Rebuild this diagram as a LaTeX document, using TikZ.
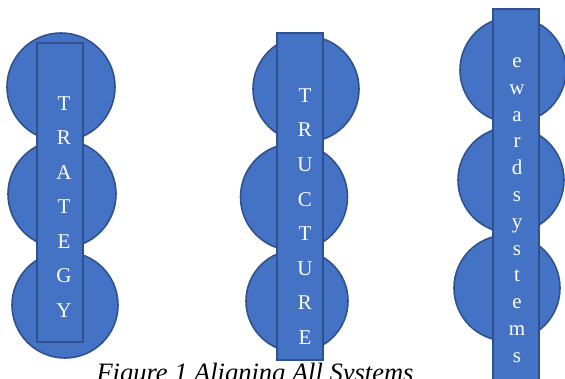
\documentclass[tikz,border=0pt]{standalone}
\usepackage{fontspec}
\setmainfont{Liberation Serif}
\definecolor{fillblue}{HTML}{4472C4}
\definecolor{edgeblue}{HTML}{2F528F}
\tikzset{
  ball/.style={circle, fill=fillblue, draw=edgeblue, line width=1.6pt, minimum size=#1, inner sep=0pt},
  bar/.style={rectangle, fill=fillblue, draw=edgeblue, line width=1.6pt, inner sep=0pt},
  letters/.style={text=white, align=center, font=\fontsize{21}{#1}\selectfont, inner sep=0pt}
}
\begin{document}
\begin{tikzpicture}[x=1pt,y=-1pt]
\useasboundingbox (0,0) rectangle (565,378);
% group 1
\node[ball=108pt] (a1) at (61,87) {};
\node[ball=108pt] (a2) at (62,194) {};
\node[ball=106pt] (a3) at (65,305) {};
\node[bar, minimum width=46pt, minimum height=299pt] (ra) at (60,192.5) {};
\node[letters=34.5pt] (ta) at (64,207) {T\\R\\A\\T\\E\\G\\Y};
% group 2
\node[ball=106pt] (b1) at (306,89) {};
\node[ball=107pt] (b2) at (294,197) {};
\node[ball=102pt] (b3) at (297,301) {};
\node[bar, minimum width=46pt, minimum height=327pt] (rb) at (300,196.5) {};
\node[letters=34.6pt] (tb) at (305,216.5) {T\\R\\U\\C\\T\\U\\R\\E};
% group 3
\node[ball=106pt] (c1) at (513,70) {};
\node[ball=106pt] (c2) at (511,180) {};
\node[ball=106pt] (c3) at (507,288) {};
\node[bar, minimum width=46pt, minimum height=391pt] (rc) at (516,204.5) {};
\node[letters=26.8pt] (tc) at (517,210) {e\\w\\a\\r\\d\\s\\y\\s\\t\\e\\m\\s};
% caption
\node[anchor=base, font=\fontsize{26.5}{30}\selectfont\itshape, inner sep=0pt] (cap) at (255,381) {Figure 1 Aligning All Systems};
\end{tikzpicture}
\end{document}
